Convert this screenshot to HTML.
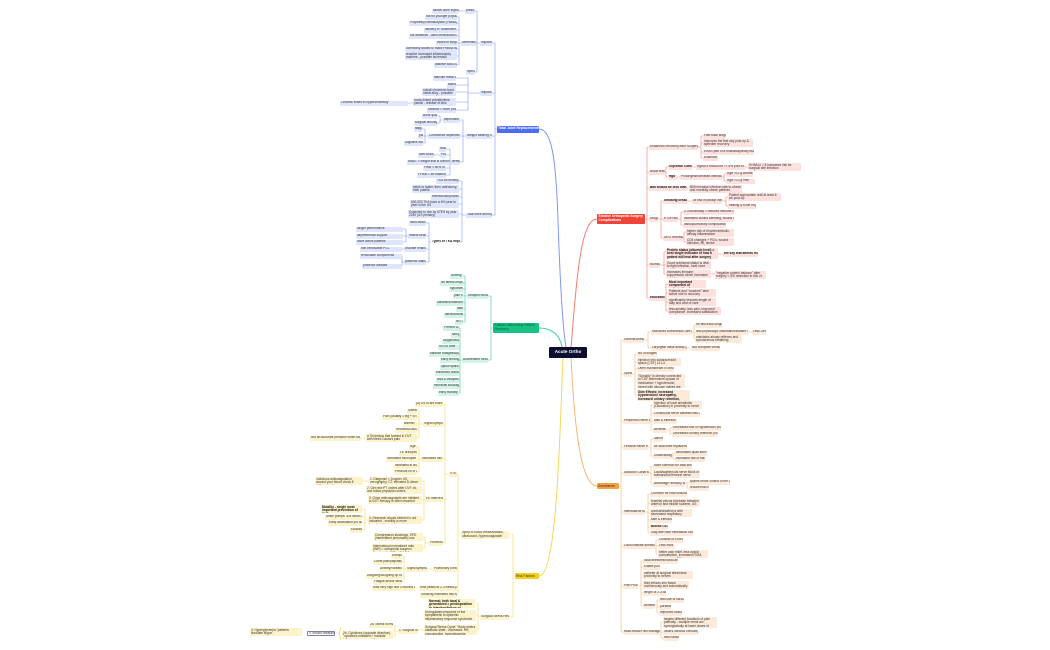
<!DOCTYPE html>
<html><head><meta charset="utf-8"><style>
body{margin:0;width:1050px;height:650px;background:#fff;position:relative;overflow:hidden;font-family:"Liberation Sans",sans-serif}
.n{position:absolute;font-size:3.2px;line-height:3.8px;padding:0.6px 1px;border-radius:1px;box-sizing:border-box;color:#333;overflow:hidden;white-space:nowrap}
.w{white-space:normal}
.b{background:#dfe5fc}.r{background:#fde1df}.g{background:#d2f3e5}.o{background:#fdeada}.y{background:#fdf3cb}
.bd{font-weight:bold;color:#111}
svg{position:absolute;left:0;top:0}
</style></head><body>
<svg width="1050" height="650" fill="none" stroke-width="0.6">
<g stroke="#7f98f5">
<path d="M539,129 C552,129 556,160 558,220 S563,330 566,347" stroke-width="1"/>
<path d="M497,129 H495 M495,43 V215 M492,43 H495 M492,93 H495 M492,136 H495 M492,215 H495"/>
<path d="M480,43 H477 M477,11 V72 M475,11 H477 M476,43 H477 M475,72 H477 M465,11 H459"/>
<path d="M461,43 H459 M459,17 V65 M457,17 H459 M457,23 H459 M457,30 H459 M457,36 H459 M457,43 H459 M457,49 H459 M457,56 H459 M457,65 H459"/>
<path d="M480,93 H468 M468,78 V110 M456,78 H468 M456,85 H468 M456,92 H468 M456,102 H468 M456,110 H468 M413,103 H408"/>
<path d="M466,136 H463 M463,120 V162 M460,120 H463 M460,136 H463 M460,162 H463"/>
<path d="M443,120 H440 M440,116 V123 M437,116 H440 M437,123 H440"/>
<path d="M428,136 H425 M425,129 V143 M422,129 H425 M423,136 H425 M423,143 H425"/>
<path d="M451,162 H450 M450,149 V175 M446,149 H450 M446,155 H450 M450,162 H450 M446,168 H450 M446,175 H450 M440,155 H434"/>
<path d="M466,215 H462 M462,181 V242 M459,181 H462 M459,189 H462 M459,197 H462 M459,204 H462 M459,214 H462 M460,242 H462"/>
<path d="M431,242 H429 M429,223 V262 M426,223 H429 M426,236 H429 M426,249 H429 M426,262 H429"/>
<path d="M408,236 H406 M406,229 V242 M403,229 H406 M403,236 H406 M403,242 H406 M404,249 H402 M404,262 H402 M402,256 V266"/>
</g>
<g stroke="#f57b70">
<path d="M597,219 C585,219 580,250 576,290 S572,340 571,347" stroke-width="1"/>
<path d="M597,219 H647 M647,147 V298 M647,147 H649 M647,172 H649 M647,188 H649 M647,219 H649 M647,265 H649 M647,298 H649" />
<path d="M698,147 H701 M701,136 V158 M701,136 H703 M701,143 H703 M701,152 H703 M701,158 H703"/>
<path d="M665,172 H666 M666,167 V177 M666,167 H668 M666,177 H668 M692,167 H696 M745,167 H748 M677,177 H680 M722,177 H724 M724,174 V181 M724,174 H726 M724,181 H726 M687,188 H689"/>
<path d="M658,219 H661 M661,201 V238 M661,201 H663 M661,219 H663 M661,238 H663 M687,201 H692 M722,201 H726 M726,197 V206 M726,197 H728 M726,206 H728"/>
<path d="M678,219 H681 M681,212 V225 M681,212 H683 M681,225 H683 M683,238 H684 M684,232 V242 M684,232 H686 M684,242 H686"/>
<path d="M660,265 H664 M664,252 V274 M664,252 H666 M664,265 H666 M664,274 H666 M718,254 H723 M711,274 H715"/>
<path d="M665,298 H666 M666,284 V311 M666,284 H668 M666,293 H668 M666,302 H668 M666,311 H668"/>
</g>
<g stroke="#3fcf98">
<path d="M539,328 C552,328 560,335 562,347" stroke-width="1"/>
<path d="M493,328 H491 M491,296 V360 M488,296 H491 M488,360 H491"/>
<path d="M467,296 H465 M465,276 V322 M463,276 H465 M463,283 H465 M463,289 H465 M463,296 H465 M463,303 H465 M463,309 H465 M463,315 H465 M463,322 H465"/>
<path d="M462,360 H460 M460,328 V393 M459,328 H460 M459,335 H460 M459,341 H460 M459,347 H460 M459,354 H460 M459,360 H460 M459,367 H460 M459,373 H460 M459,380 H460 M459,386 H460 M459,393 H460"/>
</g>
<g stroke="#f7b575">
<path d="M571,357 C574,420 580,486 597,486" stroke-width="1"/>
<path d="M597,486 H621 M621,340 V632 M621,340 H623 M621,374 H623 M621,421 H623 M621,447 H623 M621,473 H623 M621,512 H623 M621,546 H623 M621,586 H623 M621,632 H623"/>
<path d="M644,340 H648 M648,332 V348 M648,332 H651 M648,348 H651 M692,332 H694 M694,325 V339 M694,325 H695 M694,339 H695 M748,332 H752 M687,348 H691"/>
<path d="M632,374 H635 M635,354 V395 M635,354 H637 M635,362 H637 M635,369 H637 M635,381 H637 M635,395 H637"/>
<path d="M650,421 H651 M651,405 V430 M651,405 H653 M651,414 H653 M651,421 H653 M651,430 H653 M667,430 H670 M670,428 V434 M670,428 H672 M670,434 H672"/>
<path d="M648,447 H651 M651,439 V456 M651,439 H653 M651,456 H653 M672,456 H673 M673,453 V459 M673,453 H675 M673,459 H675"/>
<path d="M649,473 H651 M651,466 V484 M651,466 H653 M651,474 H653 M651,484 H653 M685,484 H687 M687,482 V488 M687,482 H689 M687,488 H689"/>
<path d="M645,512 H648 M648,494 V533 M648,494 H650 M648,503 H650 M648,513 H650 M648,520 H650 M648,527 H650 M648,533 H650"/>
<path d="M655,546 H656 M656,540 V554 M656,540 H658 M656,546 H658 M656,554 H658"/>
<path d="M638,586 H641 M641,561 V606 M641,561 H643 M641,567 H643 M641,575 H643 M641,585 H643 M641,593 H643 M641,606 H643 M655,606 H657 M657,600 V613 M657,600 H659 M657,607 H659 M657,613 H659"/>
<path d="M660,632 H661 M661,622 V638 M661,622 H663 M661,632 H663 M661,638 H663"/>
</g>
<g stroke="#f5d75a">
<path d="M563,357 C560,420 558,576 539,576" stroke-width="1"/>
<path d="M515,576 H513 M513,534 V617 M509,534 H513 M509,617 H513"/>
<path d="M461,534 H458 M458,474 V595 M457,474 H458 M457,569 H458 M457,588 H458 M457,595 H458"/>
<path d="M449,474 H445 M445,404 V543 M443,404 H445 M443,424 H445 M443,459 H445 M443,499 H445 M443,543 H445"/>
<path d="M423,424 H419 M419,411 V438 M417,411 H419 M417,417 H419 M417,424 H419 M417,430 H419 M417,438 H419 M366,438 H360"/>
<path d="M421,459 H419 M419,447 V472 M417,447 H419 M417,453 H419 M417,459 H419 M417,466 H419 M417,472 H419"/>
<path d="M425,499 H424 M424,481 V520 M422,481 H424 M422,490 H424 M422,500 H424 M422,520 H424 M369,481 H363 M368,520 H365 M365,509 V530 M362,509 H365 M362,517 H365 M362,523 H365 M362,530 H365"/>
<path d="M429,543 H425 M425,537 V548 M423,537 H425 M423,548 H425"/>
<path d="M433,569 H427 M406,569 H404 M404,556 V582 M402,556 H404 M402,562 H404 M402,569 H404 M402,576 H404 M402,582 H404 M419,588 H415"/>
<path d="M480,617 H478 M478,603 V630 M476,603 H478 M476,615 H478 M477,630 H478 M424,630 H418 M398,631 H395 M395,625 V636 M393,625 H395 M393,636 H395 M335,633 H340"/>
<path d="M341,627 Q338,633 341,640" stroke-width="0.8"/>
</g>
</svg>

<!-- center -->
<div class="n" style="left:549px;top:347px;width:38px;height:11px;background:#0d0d2e;color:#fff;font-size:4.6px;line-height:10px;text-align:center;font-weight:bold;padding:0">Acute Ortho</div>

<!-- BLUE -->
<div class="n" style="left:497px;top:125.5px;width:42px;height:7px;background:#4b6cf3;color:#fff;font-weight:bold;font-size:3.5px;line-height:5.5px">Total Joint Replacements</div>
<div class="n b" style="left:480px;top:40.5px;width:12px;height:5px">Implants</div>
<div class="n b" style="left:465px;top:8.5px;width:10px;height:5px">press-fit</div>
<div class="n b" style="left:432px;top:8.5px;width:27px;height:5px">allows bone ingrowth</div>
<div class="n b" style="left:461px;top:40.5px;width:15px;height:5px">cemented</div>
<div class="n b" style="left:466px;top:69.5px;width:9px;height:5px">hybrid</div>
<div class="n b" style="left:425px;top:14.5px;width:32px;height:5px">not for younger population</div>
<div class="n b" style="left:409px;top:20.5px;width:48px;height:5px">Polymethyl Methacrylate (PMMA)</div>
<div class="n b" style="left:424px;top:27.5px;width:33px;height:5px">delivery in "doses/stiff"</div>
<div class="n b" style="left:409px;top:33.5px;width:48px;height:5px">not adhesive - uses mechanical interlock</div>
<div class="n b" style="left:436px;top:40.5px;width:21px;height:5px">mixed in surgery</div>
<div class="n b" style="left:405px;top:46.5px;width:52px;height:5px">commonly added to make PMMA radiopaque</div>
<div class="n b w" style="left:405px;top:52px;width:52px;height:8px">reactive increased inflammatory markers - possible fat emboli</div>
<div class="n b" style="left:434px;top:62.5px;width:23px;height:5px">additive BaSO4 etc</div>
<div class="n b" style="left:480px;top:90.5px;width:12px;height:5px">Implant materials</div>
<div class="n b" style="left:433px;top:75.5px;width:23px;height:5px">titanium metal alloys - steel</div>
<div class="n b" style="left:447px;top:82.5px;width:9px;height:5px">stainless steel</div>
<div class="n b w" style="left:422px;top:88px;width:34px;height:8px">cobalt chromium hard metal alloy - possible release of ions</div>
<div class="n b w" style="left:413px;top:98px;width:43px;height:8px">cross-linked polyethylene plastic - release of ions</div>
<div class="n b" style="left:427px;top:107.5px;width:29px;height:5px">ceramic = more prone to fracture</div>
<div class="n b" style="left:340px;top:100.5px;width:68px;height:5px">Ceramic linked to hypersensitivity</div>
<div class="n b" style="left:466px;top:133.5px;width:26px;height:5px">Weight Bearing Status</div>
<div class="n b" style="left:443px;top:117.5px;width:17px;height:5px">dependent on</div>
<div class="n b" style="left:422px;top:113.5px;width:15px;height:5px">Bone quality</div>
<div class="n b" style="left:414px;top:120.5px;width:23px;height:5px">surgical technique</div>
<div class="n b" style="left:428px;top:133.5px;width:32px;height:5px">Commence dependent on</div>
<div class="n b" style="left:414px;top:126.5px;width:8px;height:5px">fatigue</div>
<div class="n b" style="left:418px;top:133.5px;width:5px;height:5px">pain</div>
<div class="n b" style="left:404px;top:140.5px;width:19px;height:5px">cognitive status</div>
<div class="n b" style="left:451px;top:159.5px;width:9px;height:5px">terms</div>
<div class="n b" style="left:439px;top:146.5px;width:7px;height:5px">NWB</div>
<div class="n b" style="left:440px;top:152.5px;width:6px;height:5px">PWB</div>
<div class="n b" style="left:418px;top:152.5px;width:16px;height:5px">toes touching</div>
<div class="n b" style="left:407px;top:159.5px;width:43px;height:5px">WBAT = weight that is comfortable</div>
<div class="n b" style="left:423px;top:165.5px;width:23px;height:5px">FWB = 50% or less</div>
<div class="n b" style="left:417px;top:172.5px;width:29px;height:5px">FFWB = for balance only</div>
<div class="n b" style="left:466px;top:212.5px;width:26px;height:5px">Total knee arthroplasty</div>
<div class="n b" style="left:436px;top:178.5px;width:23px;height:5px">TKA for tricompartmental OA</div>
<div class="n b w" style="left:412px;top:185px;width:47px;height:8px">helps to faster, then osteotomy, then patella</div>
<div class="n b" style="left:431px;top:194.5px;width:28px;height:5px">Menisectomy/osteotomy</div>
<div class="n b w" style="left:410px;top:200px;width:49px;height:8px">600,000 TKA have a 6% year to year in the US</div>
<div class="n b w" style="left:408px;top:210px;width:51px;height:8px">Expected to rise by 673% by year 2030 (US primary)</div>
<div class="n b bd" style="left:431px;top:239.5px;width:29px;height:5px;background:#fff">Types of TKA Implants</div>
<div class="n b" style="left:409px;top:220.5px;width:17px;height:5px">fixed bearing</div>
<div class="n b" style="left:408px;top:233.5px;width:18px;height:5px">mobile bearing</div>
<div class="n b" style="left:404px;top:246.5px;width:22px;height:5px">cruciate retaining</div>
<div class="n b" style="left:404px;top:259.5px;width:22px;height:5px">posterior stabilized</div>
<div class="n b" style="left:356px;top:226.5px;width:47px;height:5px">longer performance</div>
<div class="n b" style="left:356px;top:233.5px;width:47px;height:5px">asymmetrical support</div>
<div class="n b" style="left:356px;top:239.5px;width:47px;height:5px">more active patients</div>
<div class="n b" style="left:360px;top:246.5px;width:42px;height:5px">non-removable PCL</div>
<div class="n b" style="left:360px;top:253.5px;width:42px;height:5px">removable components</div>
<div class="n b" style="left:362px;top:263.5px;width:40px;height:5px">posterior disease</div>

<!-- GREEN -->
<div class="n" style="left:493px;top:323px;width:46px;height:10px;background:#18c184;color:#063;font-size:3.4px;line-height:3.9px;white-space:normal;padding:1px 1.5px">Factors Influencing Patient Recovery</div>
<div class="n g" style="left:467px;top:293.5px;width:21px;height:5px">Delayed recovery</div>
<div class="n g" style="left:450px;top:273.5px;width:13px;height:5px">Anxiety, fear</div>
<div class="n g" style="left:440px;top:280.5px;width:23px;height:5px">No stress response</div>
<div class="n g" style="left:449px;top:286.5px;width:14px;height:5px">hypothermia</div>
<div class="n g" style="left:453px;top:293.5px;width:10px;height:5px">pain mgmt</div>
<div class="n g" style="left:436px;top:300.5px;width:27px;height:5px">catheters/drains/lines</div>
<div class="n g" style="left:456px;top:306.5px;width:7px;height:5px">fasts</div>
<div class="n g" style="left:444px;top:312.5px;width:19px;height:5px">aerobic/sedation</div>
<div class="n g" style="left:455px;top:319.5px;width:8px;height:5px">NG IV</div>
<div class="n g" style="left:462px;top:357.5px;width:26px;height:5px">Accelerated Recovery</div>
<div class="n g" style="left:443px;top:325.5px;width:16px;height:5px">Prevent DVT</div>
<div class="n g" style="left:451px;top:332.5px;width:8px;height:5px">sleep</div>
<div class="n g" style="left:442px;top:338.5px;width:17px;height:5px">oxygenation</div>
<div class="n g" style="left:438px;top:344.5px;width:21px;height:5px">no NG tube</div>
<div class="n g" style="left:429px;top:351.5px;width:30px;height:5px">balance analgesia/pain</div>
<div class="n g" style="left:440px;top:357.5px;width:19px;height:5px">early feeding</div>
<div class="n g" style="left:440px;top:364.5px;width:19px;height:5px">opioid sparing</div>
<div class="n g" style="left:435px;top:370.5px;width:24px;height:5px">enhanced nutrition</div>
<div class="n g" style="left:436px;top:377.5px;width:23px;height:5px">fluid &amp; vasopressors</div>
<div class="n g" style="left:433px;top:383.5px;width:26px;height:5px">neuraxial blockage</div>
<div class="n g" style="left:438px;top:390.5px;width:21px;height:5px">early mobility</div>

<!-- RED -->
<div class="n w" style="left:597px;top:214px;width:48px;height:10px;background:#f04438;color:#fff;font-weight:bold;font-size:3.3px;line-height:3.9px;padding:1px 1.5px">Elective Orthopedic Surgery Complications</div>
<div class="n r" style="left:649px;top:144.5px;width:49px;height:5px">Enhanced Recovery After Surgery (ERAS)</div>
<div class="n r" style="left:703px;top:133.5px;width:23px;height:5px">Fast track surgery</div>
<div class="n r w" style="left:703px;top:139px;width:50px;height:8px">improves the first day post-op &amp; speedier recovery</div>
<div class="n r" style="left:703px;top:149.5px;width:51px;height:5px">ERAS part of a multidisciplinary team</div>
<div class="n r" style="left:703px;top:155.5px;width:15px;height:5px">Evidence A</div>
<div class="n r" style="left:649px;top:169.5px;width:16px;height:5px">Blood tests</div>
<div class="n r bd" style="left:668px;top:164.5px;width:24px;height:5px">Glycemic Control</div>
<div class="n r" style="left:696px;top:164.5px;width:49px;height:5px">HgbA1c should be &lt;7.5% prior to surgery</div>
<div class="n r w" style="left:748px;top:163px;width:53px;height:8px">if HbA1c &gt; 8 increased risk for surgical site infection</div>
<div class="n r bd" style="left:668px;top:174.5px;width:9px;height:5px">Hgb</div>
<div class="n r" style="left:680px;top:174.5px;width:42px;height:5px">Prolonged/increased infection risk</div>
<div class="n r" style="left:726px;top:171.5px;width:27px;height:5px">HgB &lt;12 g women</div>
<div class="n r" style="left:726px;top:178.5px;width:29px;height:5px">HgB &lt;13 g men</div>
<div class="n r bd" style="left:649px;top:185.5px;width:38px;height:5px">BMI should be less than (35)</div>
<div class="n r w" style="left:689px;top:185px;width:53px;height:8px">BMI increase infection rate to obese and morbidly obese patients</div>
<div class="n r" style="left:649px;top:216.5px;width:9px;height:5px">Drugs</div>
<div class="n r bd" style="left:663px;top:198.5px;width:24px;height:5px">Smoking cessation</div>
<div class="n r" style="left:692px;top:198.5px;width:30px;height:5px">4x risk of postop infection</div>
<div class="n r w" style="left:728px;top:193px;width:53px;height:8px">Patient appropriate until at least 6 wk post-op</div>
<div class="n r" style="left:728px;top:203.5px;width:28px;height:5px">healing &amp; bone mfg</div>
<div class="n r" style="left:663px;top:216.5px;width:15px;height:5px">ETOH alcohol</div>
<div class="n r" style="left:683px;top:209.5px;width:51px;height:5px">2-3 drinks/day = reduced immune capacity</div>
<div class="n r" style="left:683px;top:216.5px;width:51px;height:5px">increased wound bleeding, wound infections</div>
<div class="n r" style="left:683px;top:222.5px;width:43px;height:5px">cardiopulmonary complications</div>
<div class="n r" style="left:663px;top:235.5px;width:20px;height:5px">DRG Recreation</div>
<div class="n r w" style="left:686px;top:229px;width:48px;height:8px">higher risk of thromboembolic, airway inflammation</div>
<div class="n r w" style="left:686px;top:238px;width:48px;height:8px">CD4 changes + PICs, wound infection, MI, stroke</div>
<div class="n r" style="left:649px;top:262.5px;width:11px;height:5px">Nutrition</div>
<div class="n r w bd" style="left:666px;top:248px;width:52px;height:11px">Protein status (albumin level) = best single indicator of how a patient will heal after surgery</div>
<div class="n r bd" style="left:723px;top:251.5px;width:35px;height:5px">the key that affects recovery</div>
<div class="n r w" style="left:666px;top:261px;width:45px;height:8px">Good nutritional status is vital to fight infection, heal more quickly</div>
<div class="n r w" style="left:666px;top:270px;width:45px;height:8px">Increases immune suppression which increases infection rates</div>
<div class="n r w" style="left:715px;top:271px;width:51px;height:8px">"negative protein balance" after surgery = 4% reduction in risk of infections</div>
<div class="n r bd" style="left:649px;top:295.5px;width:16px;height:5px">Education</div>
<div class="n r w bd" style="left:668px;top:280px;width:38px;height:8px">Most important component of optimization focus</div>
<div class="n r w" style="left:668px;top:289px;width:48px;height:8px">Patients and "coaches" take active role in recovery</div>
<div class="n r w" style="left:668px;top:298px;width:48px;height:8px">significantly reduces length of stay and cost of care</div>
<div class="n r w" style="left:668px;top:307px;width:53px;height:8px">less anxiety, less pain, improved compliance, increased satisfaction</div>

<!-- ORANGE -->
<div class="n" style="left:597px;top:483px;width:22px;height:6px;background:#f7a043;color:#333;font-size:3.4px;line-height:4.8px">Anesthesia</div>
<div class="n o" style="left:623px;top:337.5px;width:21px;height:5px">General Anesthesia</div>
<div class="n o" style="left:651px;top:329.5px;width:41px;height:5px">Monitored Anesthesia Care (MAC)</div>
<div class="n o" style="left:695px;top:322.5px;width:27px;height:5px">for fast track surgical patients</div>
<div class="n o" style="left:695px;top:329.5px;width:53px;height:5px">less physiologic disturbances/faster recovery</div>
<div class="n o" style="left:752px;top:329.5px;width:14px;height:5px">Less Deep</div>
<div class="n o w" style="left:695px;top:335px;width:47px;height:8px">maintains airway reflexes and spontaneous breathing</div>
<div class="n o" style="left:651px;top:345.5px;width:36px;height:5px">Laryngeal mask airway (LMA)</div>
<div class="n o" style="left:691px;top:345.5px;width:29px;height:5px">Not complete ventilation</div>
<div class="n o" style="left:623px;top:371.5px;width:9px;height:5px">Spinal</div>
<div class="n o" style="left:637px;top:351.5px;width:20px;height:5px">No of surgeries</div>
<div class="n o w" style="left:637px;top:358px;width:44px;height:8px">injection into subarachnoid space (CSF) L2-L4</div>
<div class="n o" style="left:637px;top:366.5px;width:37px;height:5px">Often mainstream in chronic</div>
<div class="n o w" style="left:637px;top:374px;width:48px;height:14px">"Spinally" is directly connected to CSF determines spread of medication + hypotension; mixed with glucose makes are often heavy</div>
<div class="n o w bd" style="left:637px;top:390px;width:53px;height:11px">Side Effects: increased hypotension/ neuropathy, increased urinary retention, pruritus (itchy)</div>
<div class="n o" style="left:623px;top:418.5px;width:27px;height:5px">Peripheral Nerve Block</div>
<div class="n o w" style="left:653px;top:401px;width:49px;height:8px">Injection of local anesthetic (Lidocaine) in proximity to nerve</div>
<div class="n o" style="left:653px;top:411.5px;width:47px;height:5px">Continuous nerve catheter/Neu-analgesia</div>
<div class="n o" style="left:653px;top:418.5px;width:24px;height:5px">safe &amp; effective</div>
<div class="n o" style="left:653px;top:427.5px;width:14px;height:5px">Benefits</div>
<div class="n o" style="left:672px;top:425.5px;width:49px;height:5px">Decreased risk of hypotension p/o surgery</div>
<div class="n o" style="left:672px;top:431.5px;width:46px;height:5px">Decreased urinary retention p/o surgery</div>
<div class="n o" style="left:623px;top:444.5px;width:25px;height:5px">Femoral Nerve block</div>
<div class="n o" style="left:653px;top:436.5px;width:10px;height:5px">Identify</div>
<div class="n o" style="left:653px;top:444.5px;width:34px;height:5px">for total knee replacements</div>
<div class="n o" style="left:653px;top:453.5px;width:19px;height:5px">Disadvantages</div>
<div class="n o" style="left:675px;top:450.5px;width:32px;height:5px">decreased quad strength</div>
<div class="n o" style="left:675px;top:456.5px;width:30px;height:5px">increased risk of falling</div>
<div class="n o" style="left:623px;top:470.5px;width:26px;height:5px">Adductor Canal Block</div>
<div class="n o" style="left:653px;top:463.5px;width:39px;height:5px">More common for total knee</div>
<div class="n o w" style="left:653px;top:470px;width:47px;height:8px">Local/saphenous nerve block or subsartorial femoral nerve</div>
<div class="n o" style="left:653px;top:481.5px;width:32px;height:5px">advantage: sensory block</div>
<div class="n o" style="left:689px;top:479.5px;width:41px;height:5px">spares motor control of the quads</div>
<div class="n o" style="left:689px;top:485.5px;width:20px;height:5px">reduced fall risk</div>
<div class="n o" style="left:623px;top:509.5px;width:22px;height:5px">Interscalene Block</div>
<div class="n o" style="left:650px;top:491.5px;width:37px;height:5px">Common for total shoulder</div>
<div class="n o w" style="left:650px;top:499px;width:50px;height:8px">brachial plexus blockade between anterior and middle scalene, US guided</div>
<div class="n o w" style="left:650px;top:509px;width:42px;height:8px">contraindicated pt with decreased respiratory function</div>
<div class="n o" style="left:650px;top:517.5px;width:22px;height:5px">safe &amp; effective</div>
<div class="n o bd" style="left:650px;top:524.5px;width:18px;height:5px">Blocks C5-C7</div>
<div class="n o" style="left:650px;top:530.5px;width:43px;height:5px">Stay alert with medication used</div>
<div class="n o" style="left:623px;top:543.5px;width:32px;height:5px">Local infiltrate anesthesia</div>
<div class="n o" style="left:658px;top:537.5px;width:25px;height:5px">Cocktail of 4 meds</div>
<div class="n o" style="left:658px;top:543.5px;width:17px;height:5px">Less risks</div>
<div class="n o w" style="left:658px;top:550px;width:50px;height:8px">better pain relief, less opioid consumption, increased ROM, decreased LOS</div>
<div class="n o" style="left:623px;top:583.5px;width:15px;height:5px">Pain Pumps</div>
<div class="n o" style="left:643px;top:558.5px;width:35px;height:5px">local anesthetic/local anesthetic</div>
<div class="n o" style="left:643px;top:564.5px;width:17px;height:5px">Elastic pump</div>
<div class="n o w" style="left:643px;top:571px;width:50px;height:8px">catheter at surgical sites/close proximity to nerves</div>
<div class="n o w" style="left:643px;top:581px;width:46px;height:8px">fluid infuses into tissue continuously and automatically</div>
<div class="n o" style="left:643px;top:590.5px;width:23px;height:5px">length of 2-3 days</div>
<div class="n o" style="left:643px;top:603.5px;width:12px;height:5px">Benefits</div>
<div class="n o" style="left:659px;top:597.5px;width:25px;height:5px">less use of narcotics</div>
<div class="n o" style="left:659px;top:604.5px;width:12px;height:5px">portable</div>
<div class="n o" style="left:659px;top:610.5px;width:23px;height:5px">improved mobility</div>
<div class="n o" style="left:623px;top:629.5px;width:37px;height:5px">Multi-modal Pain management</div>
<div class="n o w" style="left:663px;top:617px;width:54px;height:11px">targets different locations of pain pathway - multiple meds act synergistically at lower doses of each drug</div>
<div class="n o" style="left:663px;top:629.5px;width:35px;height:5px">lowers narcotic consumption</div>
<div class="n o" style="left:663px;top:635.5px;width:16px;height:5px">less nausea</div>

<!-- YELLOW -->
<div class="n" style="left:515px;top:573px;width:24px;height:6px;background:#f5d11c;color:#333;font-size:3.4px;line-height:4.8px">Risk Factors</div>
<div class="n y w" style="left:461px;top:530.5px;width:48px;height:8px">Injury to blood vessels/stasis, ultrasound, hypercoagulable</div>
<div class="n y" style="left:449px;top:471.5px;width:8px;height:5px">VTE's</div>
<div class="n y" style="left:415px;top:401.5px;width:28px;height:5px">(A) DVTs are more visible</div>
<div class="n y" style="left:423px;top:421.5px;width:20px;height:5px">Signs/Symptoms</div>
<div class="n y" style="left:407px;top:408.5px;width:10px;height:5px">Swelling</div>
<div class="n y" style="left:382px;top:414.5px;width:35px;height:5px">Pain (usually 1 leg + to standing)</div>
<div class="n y" style="left:403px;top:421.5px;width:14px;height:5px">warmth</div>
<div class="n y" style="left:395px;top:427.5px;width:22px;height:5px">Redness/Discoloration</div>
<div class="n y w" style="left:366px;top:434px;width:51px;height:8px">a Thrombus that formed in DVT with bleed Causes pain</div>
<div class="n y" style="left:310px;top:435.5px;width:50px;height:5px">Not an accurate predictor when used alone</div>
<div class="n y" style="left:421px;top:456.5px;width:22px;height:5px">Increased risk with:</div>
<div class="n y" style="left:409px;top:444.5px;width:8px;height:5px">Age</div>
<div class="n y" style="left:399px;top:450.5px;width:18px;height:5px">LE orthopedic ss</div>
<div class="n y" style="left:386px;top:456.5px;width:31px;height:5px">Increased tourniquet time</div>
<div class="n y" style="left:394px;top:463.5px;width:23px;height:5px">increased in BMI</div>
<div class="n y" style="left:394px;top:469.5px;width:23px;height:5px">Previous hx of DVT</div>
<div class="n y" style="left:425px;top:496.5px;width:18px;height:5px">PE interventions</div>
<div class="n y w" style="left:369px;top:477px;width:53px;height:8px">1. Diagnose = Doppler US, venography, CT, elevated D-dimer</div>
<div class="n y w" style="left:315px;top:477px;width:48px;height:8px">Judicious anticoagulation, around your blood check if stiffness is low</div>
<div class="n y w" style="left:366px;top:486px;width:56px;height:8px">2. Get new PT orders after DVT dx, and follow physician orders</div>
<div class="n y w" style="left:368px;top:496px;width:54px;height:8px">3. Once anticoagulants are initiated to DVT therapy is often resumed</div>
<div class="n y w" style="left:368px;top:516px;width:54px;height:8px">4. Research shows bedrest is not indicated - mobility is more beneficial than detrimental</div>
<div class="n y w bd" style="left:321px;top:505px;width:41px;height:8px">Mobility - single most important prevention of DVT</div>
<div class="n y" style="left:325px;top:514.5px;width:37px;height:5px">Ankle pumps: 30x within hour</div>
<div class="n y" style="left:328px;top:520.5px;width:34px;height:5px">Early ambulation p/o surgery</div>
<div class="n y" style="left:350px;top:527.5px;width:12px;height:5px">Education</div>
<div class="n y" style="left:429px;top:540.5px;width:14px;height:5px">Prevention</div>
<div class="n y w" style="left:374px;top:533px;width:49px;height:8px">Compression stockings, SPD (intermittent pneumatic) use</div>
<div class="n y w" style="left:372px;top:544px;width:51px;height:8px">International normalized ratio (INR) = orthopedic surgeon therapeutic INR to 2.0-3.0</div>
<div class="n y" style="left:433px;top:566.5px;width:24px;height:5px">Pulmonary Embolism</div>
<div class="n y" style="left:406px;top:566.5px;width:21px;height:5px">Signs/Symptoms</div>
<div class="n y" style="left:391px;top:553.5px;width:11px;height:5px">Unexplained SOB</div>
<div class="n y" style="left:373px;top:559.5px;width:29px;height:5px">Chest pain/palpitations</div>
<div class="n y" style="left:379px;top:566.5px;width:23px;height:5px">Anxiety/Sweating</div>
<div class="n y" style="left:366px;top:573.5px;width:36px;height:5px">coughing/coughing up blood</div>
<div class="n y" style="left:373px;top:579.5px;width:29px;height:5px">Fatigue and/or fainting</div>
<div class="n y" style="left:419px;top:585.5px;width:38px;height:5px">Risk peaks at 2-3 weeks post op</div>
<div class="n y" style="left:372px;top:585.5px;width:43px;height:5px">Risk very high first 3 months after sx</div>
<div class="n y" style="left:420px;top:592.5px;width:37px;height:5px">Smoking increases risk by ...%</div>
<div class="n y" style="left:480px;top:614.5px;width:29px;height:5px">Surgical Stress Response</div>
<div class="n y w bd" style="left:428px;top:599px;width:47px;height:9px">Normal: both local &amp; generalized = predisposition to infection/failure of recovery response</div>
<div class="n y w" style="left:424px;top:610px;width:52px;height:11px">Unregulated response of the sympathetic to systemic inflammatory response syndrome (SIRS)</div>
<div class="n y w" style="left:424px;top:625px;width:53px;height:10px">Surgical Stress Cycle: "Body enters catabolic state - increased: HR, consumption, hyperglycemia, acidification, immune"</div>
<div class="n y" style="left:398px;top:628.5px;width:20px;height:5px">1. Surgical Stress</div>
<div class="n y" style="left:369px;top:622.5px;width:24px;height:5px">2a. Stress hormones</div>
<div class="n y w" style="left:342px;top:631px;width:51px;height:8px">2b. Cytokines (opposite direction) "cytokines released = mediate inflammatory cascade"</div>
<div class="n" style="left:307px;top:630.5px;width:28px;height:5px;border:0.5px solid #8080a0;background:#fff">3. Insulin resistance</div>
<div class="n y w" style="left:250px;top:628px;width:52px;height:8px">4. Hyperglycemia "patients fluctuate sugar"</div>
</body></html>
